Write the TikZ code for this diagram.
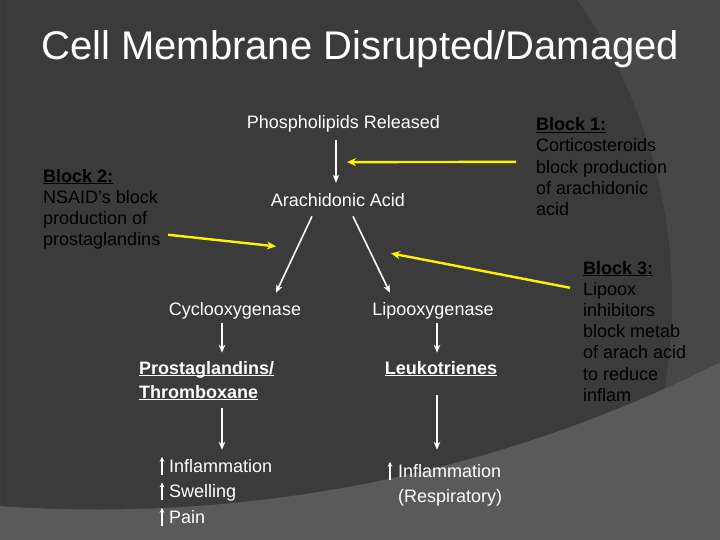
\documentclass[tikz,border=0pt]{standalone}
\usepackage{fontspec}
\setmainfont{Liberation Sans}
\usetikzlibrary{arrows.meta}
\definecolor{bgdark}{RGB}{59,59,59}
\definecolor{bgmid}{RGB}{71,71,71}
\definecolor{bglight}{RGB}{90,90,90}
\newcommand\ulx[1]{\setbox0=\hbox{#1}\rlap{\rule[-2.4pt]{\wd0}{1.4pt}}\box0}
\begin{document}
\begin{tikzpicture}[x=1pt,y=-1pt,
  lbl/.style={inner sep=0pt, font=\fontsize{18}{21.4}\selectfont, text=white},
  blk/.style={inner sep=0pt, font=\fontsize{18}{21.2}\selectfont, text=black, align=left, anchor=base west},
  wa/.style={draw=white, line width=1.6pt, -{Stealth[length=8pt,width=6.5pt]}},
  ya/.style={draw=yellow, line width=2.4pt, -{Stealth[length=9pt,width=8pt]}},
  ua/.style={draw=white, line width=1.4pt, -{Stealth[length=5pt,width=4.5pt]}}]
\useasboundingbox (0,0) rectangle (720,540);
% background
\begin{scope}
  \clip (0,0) rectangle (720,540);
  \fill[bgmid] (0,0) rectangle (720,540);
  \fill[bgdark] (151,300) circle[radius=521];
  \fill[bglight, even odd rule] (0,0) rectangle (720,540) (97.5,-878.5) circle[radius=1388];
\end{scope}
% title
\node[inner sep=0pt, anchor=base west, text=white, font=\fontsize{40}{48}\selectfont] (title) at (41,60) {Cell Membrane Disrupted/Damaged};
% main nodes (multi-line nodes: base = last line)
\node[lbl, anchor=base] (pr) at (343.5,129) {Phospholipids Released};
\node[lbl, anchor=base] (aa) at (338,207) {Arachidonic Acid};
\node[lbl, anchor=base] (cy) at (235,315) {Cyclooxygenase};
\node[lbl, anchor=base] (li) at (433,315) {Lipooxygenase};
\node[lbl, anchor=base west, align=left, font=\fontsize{18}{24}\selectfont\bfseries] (pg) at (139,398) {\ulx{Prostaglandins/}\\\ulx{Thromboxane}};
\node[lbl, anchor=base, font=\fontsize{18}{24}\selectfont\bfseries] (lk) at (441,374) {\ulx{Leukotrienes}};
\node[lbl, anchor=base west, align=left, font=\fontsize{18}{25.5}\selectfont] (sx) at (169,523) {Inflammation\\Swelling\\Pain};
\node[lbl, anchor=base west, align=left, font=\fontsize{18}{25}\selectfont] (ir) at (398,502) {Inflammation\\(Respiratory)};
% block notes
\node[blk] (b1) at (536,215.5) {\ulx{\textbf{Block 1:}}\\Corticosteroids\\block production\\of arachidonic\\acid};
\node[blk] (b2) at (43,245.6) {\ulx{\textbf{Block 2:}}\\NSAID’s block\\production of\\prostaglandins};
\node[blk] (b3) at (583,401.2) {\ulx{\textbf{Block 3:}}\\Lipoox\\inhibitors\\block metab\\of arach acid\\to reduce\\inflam};
% white arrows
\draw[wa] ([shift={(-7.5,7.2)}]pr.south) -- ([shift={(-2,-11)}]aa.north);
\draw[wa] ([shift={(-26,9)}]aa.south) -- ([shift={(41,-9)}]cy.north);
\draw[wa] ([shift={(15,9)}]aa.south) -- ([shift={(-43,-9)}]li.north);
\draw[wa] ([shift={(-13,4)}]cy.south) -- ([shift={(83,-8)}]pg.north west);
\draw[wa] ([shift={(4,4)}]li.south) -- ([shift={(-4,-8)}]lk.north);
\draw[wa] ([shift={(83,7.6)}]pg.south west) -- ([shift={(53,-9)}]sx.north west);
\draw[wa] ([shift={(-4,18.6)}]lk.south) -- ([shift={(39,-14)}]ir.north west);
% small up arrows
\draw[ua] ([shift={(-7,16)}]sx.north west) -- ++(0,-18);
\draw[ua] ([shift={(-7,41.5)}]sx.north west) -- ++(0,-18);
\draw[ua] ([shift={(-7,67)}]sx.north west) -- ++(0,-18);
\draw[ua] ([shift={(-8,16)}]ir.north west) -- ++(0,-18);
% yellow block arrows
\draw[ya] ([shift={(-20,44.4)}]b1.north west) -- ([shift={(3.5,29.2)}]pr.south);
\draw[ya] ([shift={(125,66)}]b2.north west) -- ([shift={(-62,39)}]aa.south);
\draw[ya] ([shift={(-13,27)}]b3.north west) -- ([shift={(53,46)}]aa.south);
\end{tikzpicture}
\end{document}
